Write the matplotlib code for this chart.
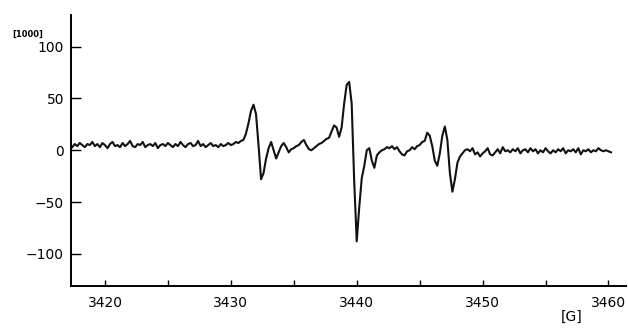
"""
EPR-style derivative spectrum, field in gauss vs signal in units of 1000.
"""
import numpy as np
import matplotlib
matplotlib.use("Agg")
import matplotlib.pyplot as plt
from matplotlib.ticker import MultipleLocator, FuncFormatter

# field sweep: start and step in G, one value per step
FIELD_START = 3417.4
FIELD_STEP = 0.2

# signal [1000]
signal = [
    3, 6, 4, 7, 5, 3, 6, 5, 8, 4, 6, 3, 7, 5, 2, 6, 8, 4, 5, 3,
    7, 4, 6, 9, 4, 3, 6, 5, 8, 3, 5, 6, 4, 7, 2, 5, 6, 4, 7, 5,
    3, 6, 4, 8, 5, 3, 6, 7, 4, 5, 9, 4, 6, 3, 5, 7, 4, 5, 3, 6,
    4, 5, 7, 5, 6, 8, 7, 9, 10,
    16, 26, 38, 44, 35, 5, -28, -22, -8, 2, 8, 0, -8, -2, 4, 7,
    3, -2, 1, 2, 4, 5, 8, 10, 5, 1, 0, 2, 4, 6, 7, 9, 11, 12,
    18, 24, 22, 13, 22, 45, 63, 66, 45, -30, -88, -55, -27, -15, 0, 2,
    -10, -17, -5, -2, 0, 1, 3, 2, 4, 1, 3, -1, -4, -5, -1, 0,
    3, 1, 4, 5, 8, 9, 17, 14, 4, -10, -15, -3, 14, 23, 10, -22,
    -40, -28, -12, -6, -3, 0, 1, -1, 2, -4, -2, -6,
    -3, -1, 2, -4, -5, -2, 1, -3, 3, -1, 0, -2, 1, -1, 2, -3,
    0, 1, -2, 2, -1, 1, -3, 0, -2, 2, -1, -3, 0, -2, 1, -1,
    2, -3, 0, -1, 1, -2, 2, -4, 0, -1, 1, -2, 0, -1, 2, 0,
    -1, 0, -1, -2,
]

field = FIELD_START + FIELD_STEP * np.arange(len(signal))

x_labels_every = 10
y_ticks = [-100, -50, 0, 50, 100]

fig = plt.figure(figsize=(6.28, 3.29), dpi=100)
ax = fig.add_axes([0.113, 0.131, 0.884, 0.823])

ax.plot(field, signal, color="#111111", lw=1.5)

ax.set_xlim(3417.3, 3461.4)
ax.set_ylim(-131, 130.5)

ax.spines["top"].set_visible(False)
ax.spines["right"].set_visible(False)
for s in ("left", "bottom"):
    ax.spines[s].set_linewidth(1.4)

ax.xaxis.set_major_locator(MultipleLocator(5))
ax.xaxis.set_minor_locator(MultipleLocator(1))
ax.xaxis.set_major_formatter(FuncFormatter(
    lambda v, p: f"{v:.0f}" if round(v) % x_labels_every == 0 else ""))
ax.set_yticks(y_ticks)
ax.yaxis.set_major_formatter(FuncFormatter(
    lambda v, p: f"{v:.0f}".replace("-", "\u2212")))

ax.tick_params(axis="x", which="major", direction="in", length=4, width=1,
               pad=7, labelsize=10)
ax.tick_params(axis="x", which="minor", direction="in", length=1, width=0.6)
ax.tick_params(axis="y", which="major", direction="in", length=7, width=1,
               pad=5, labelsize=10)

fig.text(0.019, 0.897, "[1000]", fontsize=6, fontweight="bold",
         ha="left", va="center")
fig.text(0.911, 0.036, "[G]", fontsize=10, ha="center", va="center")

fig.savefig("out.png", dpi=100)
